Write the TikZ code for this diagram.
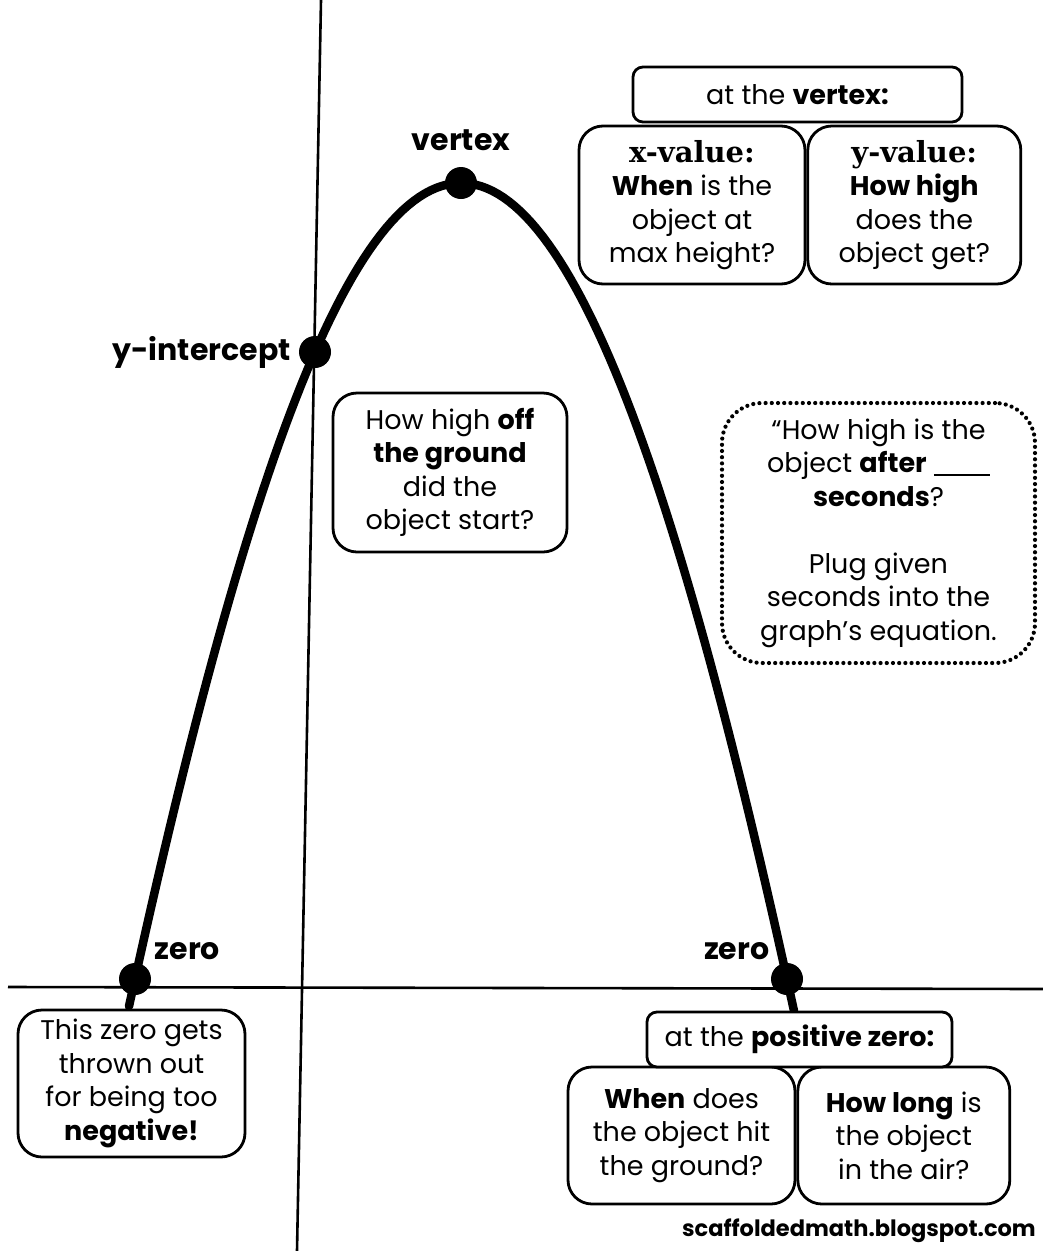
\documentclass[tikz,border=0pt]{standalone}
\usepackage{fontspec}
\setmainfont{Poppins}
\newfontfamily\headserif{DejaVu Serif}
\usepackage{tikz}
\usetikzlibrary{positioning}

\tikzset{
  graphline/.style={line width=8.5pt, line cap=round},
  axisline/.style={line width=2.6pt},
  dot/.style={circle, fill=black, inner sep=0pt, minimum size=32pt},
  ptlabel/.style={inner sep=0pt, font=\fontsize{30}{34}\selectfont\bfseries},
  card/.style={draw, line width=2.8pt, fill=white, rounded corners=24pt, align=center, inner sep=0pt, font=\fontsize{27}{33.5}\selectfont},
  tagcard/.style={card, rounded corners=10pt},
  dotcard/.style={card, rounded corners=40pt, line width=4.2pt, line cap=round, dash pattern=on 0pt off 6.2pt}
}
\newcommand{\cardhead}[1]{{\headserif\bfseries\fontsize{29}{33.5}\selectfont #1}}

\begin{document}
\begin{tikzpicture}[x=1pt, y=-1pt]
    \useasboundingbox (0,0) rectangle (1043,1251);

    % axes
    \draw [axisline] (321,0) -- (297,1251);
    \draw [axisline] (8,987) -- (1043,989);

    % the parabola (a little flatter at the top)
    \draw [graphline] plot [domain=-332:333, samples=120] ({461+\x},{183+854.1*(\x/326)^2-58.1*(\x/326)^4});

    \node [dot] (vtx) at (461,183) {};
    \node [dot] (yint) at (315,352) {};
    \node [dot] (zleft) at (135,979) {};
    \node [dot] (zright) at (787,979) {};

    \node [ptlabel, above=16pt of vtx] (vtxlabel) {vertex};
    \node [ptlabel, left=8pt of yint] (yintlabel) {y-intercept};
    \node [ptlabel, above right=8pt and 8pt of zleft] (zleftlabel) {zero};
    \node [ptlabel, above left=8pt and 6pt of zright] (zrightlabel) {zero};

    % vertex cards
    \node [card, minimum width=226pt, minimum height=158pt] (xval) at (692,205) {\cardhead{x-value:}\\\textbf{When} is the\\object at\\max height?};
    \node [card, minimum width=213pt, minimum height=158pt, right=0pt of xval] (yval) {\cardhead{y-value:}\\\textbf{How high}\\does the\\object get?};
    \node [tagcard, minimum width=329pt, minimum height=55pt] (vtxtag) at (797.5,94.5) {at the \textbf{vertex:}};

    % y-intercept card
    \node [card, minimum width=234pt, minimum height=159pt] (start) at (450,472.5) {How high \textbf{off}\\\textbf{the ground}\\did the\\object start?};

    % dotted card
    \node [dotcard, minimum width=313pt, minimum height=260pt] (after) at (878.5,533) {\char"201C How high is the\\object \textbf{after} \rule[-3pt]{56pt}{1.4pt}\\\textbf{seconds}?\\[33.5pt]Plug given\\seconds into the\\graph\char"2019 s equation.};

    % zero cards
    \node [card, minimum width=227pt, minimum height=147pt] (negzero) at (131.5,1083.5) {This zero gets\\thrown out\\for being too\\\textbf{negative!}};
    \node [card, minimum width=227pt, minimum height=137pt] (hit) at (681.5,1135.5) {\textbf{When} does\\the object hit\\the ground?};
    \node [card, minimum width=212pt, minimum height=137pt, right=0pt of hit] (air) {\textbf{How long} is\\the object\\in the air?};
    \node [tagcard, minimum width=305pt, minimum height=55pt] (zerotag) at (799.5,1039.5) {at the \textbf{positive zero:}};

    \node [anchor=south east, inner sep=0pt, font=\fontsize{22.5}{26}\selectfont\bfseries] (credit) at (1036,1243) {scaffoldedmath.blogspot.com};
\end{tikzpicture}
\end{document}
